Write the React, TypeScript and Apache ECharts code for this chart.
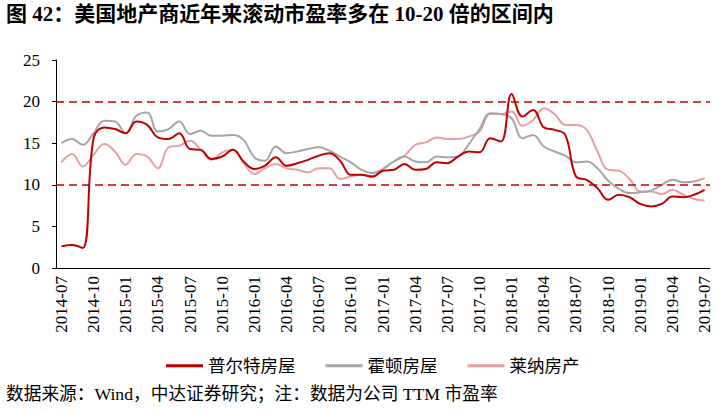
import React, { useEffect, useRef } from "react";
import * as echarts from "echarts";

const months = [
  "2014-07","2014-08","2014-09","2014-10","2014-11","2014-12",
  "2015-01","2015-02","2015-03","2015-04","2015-05","2015-06",
  "2015-07","2015-08","2015-09","2015-10","2015-11","2015-12",
  "2016-01","2016-02","2016-03","2016-04","2016-05","2016-06",
  "2016-07","2016-08","2016-09","2016-10","2016-11","2016-12",
  "2017-01","2017-02","2017-03","2017-04","2017-05","2017-06",
  "2017-07","2017-08","2017-09","2017-10","2017-11","2017-12",
  "2018-01","2018-02","2018-03","2018-04","2018-05","2018-06",
  "2018-07","2018-08","2018-09","2018-10","2018-11","2018-12",
  "2019-01","2019-02","2019-03","2019-04","2019-05","2019-06",
  "2019-07",
];

const pulte = [
  2.6, 2.75, 2.4, 15.6, 16.9, 16.7, 16.2, 17.6, 17.2, 15.7,
  15.5, 16.2, 14.3, 14.2, 13.1, 13.4, 14.2, 12.8, 11.9, 12.3,
  13.3, 12.3, 12.6, 13.0, 13.5, 13.8, 12.9, 11.2, 11.2, 11.0,
  11.7, 11.8, 12.5, 11.8, 11.9, 12.7, 12.6, 13.4, 14.0, 13.9,
  15.6, 15.2, 20.9, 18.2, 19.0, 16.9, 16.6, 16.0, 11.0, 10.6,
  9.6, 8.2, 8.8, 8.5, 7.7, 7.4, 7.7, 8.6, 8.5, 8.8,
  9.4,
];

const horton = [
  15.0, 15.5, 14.8, 16.2, 17.7, 17.6, 16.2, 18.3, 18.7, 16.4,
  16.7, 17.6, 16.1, 16.5, 15.9, 15.9, 16.0, 15.4, 13.3, 12.9,
  14.6, 13.8, 14.0, 14.3, 14.5, 14.1, 13.4, 12.7, 11.8, 11.4,
  11.9, 12.8, 13.4, 12.8, 12.7, 13.4, 13.3, 13.4, 14.9, 16.7,
  18.6, 18.5, 18.0, 15.6, 16.0, 14.6, 14.0, 13.5, 12.7, 12.8,
  12.0, 10.5, 9.5, 9.0, 9.1, 9.3, 10.0, 10.6, 10.3, 10.4,
  10.8,
];

const lennar = [
  12.7, 13.7, 12.2, 13.6, 14.9, 14.0, 12.4, 13.7, 13.4, 12.0,
  14.5, 14.7, 15.3, 14.2, 13.0, 13.9, 14.2, 12.6, 11.3, 12.0,
  12.5, 12.0, 11.8, 11.5, 12.0, 12.0, 10.7, 11.0, 11.2, 10.9,
  11.9, 12.8, 13.5, 14.8, 15.1, 15.7, 15.5, 15.5, 15.8, 16.4,
  18.5, 18.5, 18.8, 17.1, 17.8, 19.2, 18.5, 17.2, 17.2, 16.6,
  14.0, 11.8, 11.7, 10.7, 9.2, 9.2, 8.9, 9.4, 8.8, 8.3,
  8.1,
];

const seriesNames = ["普尔特房屋", "霍顿房屋", "莱纳房产"];
const refLines = [20, 10];
const titleText = "图 42：美国地产商近年来滚动市盈率多在 10-20 倍的区间内";
const sourceText = "数据来源：Wind，中达证券研究；注：数据为公司 TTM 市盈率";

const FONT = '"Liberation Serif", "Noto Sans CJK SC", serif';

export default function App() {
  const ref = useRef<HTMLDivElement>(null);
  useEffect(() => {
    if (!ref.current) return;
    const chart = echarts.init(ref.current, null, { renderer: "svg" });
    const colors = ["#C00000", "#A6A6A6", "#E6A1A1"];
    const data = [pulte, horton, lennar];
    chart.setOption({
      animation: false,
      backgroundColor: "#ffffff",
      textStyle: { fontFamily: FONT },
      grid: { left: 56, right: 9, top: 60, bottom: 144, containLabel: false },
      legend: {
        data: seriesNames,
        left: 166,
        top: 357,
        padding: 0,
        icon: "rect",
        itemWidth: 37,
        itemHeight: 3,
        itemGap: 30,
        textStyle: { fontFamily: FONT, fontSize: 17.5, color: "#000" },
      },
      xAxis: {
        type: "category",
        data: months,
        boundaryGap: true,
        axisLine: { lineStyle: { color: "#000", width: 1 } },
        axisTick: { interval: 2, length: 5, lineStyle: { color: "#000" } },
        axisLabel: {
          interval: 2,
          rotate: 90,
          margin: 8,
          fontSize: 17,
          color: "#000",
          fontFamily: FONT,
        },
        splitLine: { show: false },
      },
      yAxis: {
        type: "value",
        min: 0,
        max: 25,
        interval: 5,
        axisLine: { show: true, lineStyle: { color: "#000", width: 1 } },
        axisTick: { show: true, length: 4, lineStyle: { color: "#000" } },
        axisLabel: { margin: 16, fontSize: 17, color: "#000", fontFamily: FONT },
        splitLine: { show: false },
      },
      series: seriesNames.map((name, k) => ({
        name,
        type: "line",
        data: data[k],
        smooth: 0.4,
        symbol: "none",
        z: 3 - k,
        lineStyle: { color: colors[k], width: 2 },
        itemStyle: { color: colors[k] },
        markLine:
          k === 0
            ? {
                silent: true,
                symbol: "none",
                label: { show: false },
                lineStyle: { color: "#C00000", type: [8, 5], width: 1.5 },
                data: refLines.map((v) => ({ yAxis: v })),
              }
            : undefined,
      })),
      graphic: [
        {
          type: "text",
          left: 6,
          top: 3,
          style: {
            text: titleText,
            font: `bold 21px ${FONT}`,
            fill: "#000",
          },
        },
        {
          type: "text",
          left: 6,
          top: 385,
          style: {
            text: sourceText,
            font: `17.7px ${FONT}`,
            fill: "#000",
          },
        },
      ],
    });
    return () => chart.dispose();
  }, []);
  return (
    <div
      ref={ref}
      style={{ position: "absolute", left: 0, top: 0, width: 719, height: 412 }}
    />
  );
}
